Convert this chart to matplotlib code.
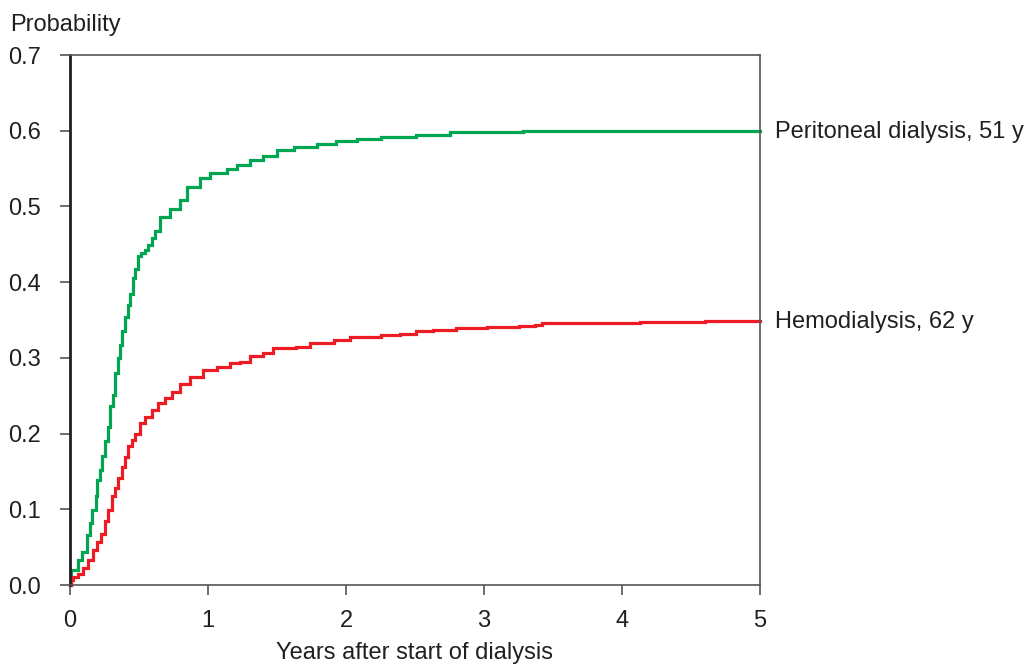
import matplotlib.pyplot as plt

plt.rcParams["font.family"] = ["Liberation Sans", "DejaVu Sans"]

TEXT = "#231f20"
GREEN = "#00a651"
RED = "#ed1c24"

# Cumulative probability step curves (years, probability)
pd_years = [0.0, 0.005, 0.06, 0.085, 0.12, 0.145, 0.157, 0.186, 0.193, 0.217,
            0.23, 0.254, 0.273, 0.29, 0.314, 0.326, 0.345, 0.362, 0.379, 0.399,
            0.418, 0.435, 0.459, 0.471, 0.49, 0.514, 0.543, 0.567, 0.592, 0.616,
            0.652, 0.725, 0.797, 0.845, 0.942, 1.014, 1.135, 1.208, 1.304, 1.40,
            1.50, 1.62, 1.79, 1.93, 2.08, 2.25, 2.51, 2.75, 3.28, 4.02, 5.0]
pd_prob = [0.0, 0.020, 0.033, 0.044, 0.066, 0.082, 0.099, 0.117, 0.139, 0.152,
           0.170, 0.190, 0.209, 0.236, 0.251, 0.280, 0.300, 0.317, 0.335, 0.354,
           0.370, 0.385, 0.405, 0.418, 0.434, 0.438, 0.442, 0.449, 0.458, 0.467,
           0.486, 0.497, 0.509, 0.526, 0.537, 0.544, 0.550, 0.555, 0.561, 0.566,
           0.575, 0.579, 0.582, 0.586, 0.589, 0.592, 0.595, 0.598, 0.599, 0.600, 0.600]

hd_years = [0.0, 0.005, 0.024, 0.06, 0.097, 0.133, 0.169, 0.193, 0.225, 0.254,
            0.273, 0.302, 0.326, 0.35, 0.374, 0.399, 0.423, 0.447, 0.471, 0.507,
            0.543, 0.592, 0.64, 0.688, 0.737, 0.797, 0.87, 0.966, 1.063, 1.16,
            1.232, 1.304, 1.40, 1.473, 1.64, 1.74, 1.91, 2.03, 2.25, 2.39,
            2.51, 2.63, 2.80, 3.02, 3.25, 3.37, 3.42, 4.13, 4.60, 5.0]
hd_prob = [0.0, 0.007, 0.011, 0.015, 0.022, 0.033, 0.046, 0.057, 0.068, 0.084,
           0.099, 0.117, 0.128, 0.141, 0.156, 0.169, 0.183, 0.192, 0.200, 0.214,
           0.222, 0.231, 0.240, 0.247, 0.255, 0.266, 0.275, 0.284, 0.288, 0.293,
           0.295, 0.302, 0.307, 0.3125, 0.315, 0.319, 0.324, 0.327, 0.330, 0.332,
           0.335, 0.337, 0.339, 0.341, 0.3425, 0.344, 0.3456, 0.347, 0.349, 0.349]

labels = ["Peritoneal dialysis, 51 y", "Hemodialysis, 62 y"]

fig = plt.figure(figsize=(10.31, 6.64), dpi=100)
ax = fig.add_axes((70 / 1031, 79 / 664, 690 / 1031, 530 / 664))

ax.plot(pd_years, pd_prob, drawstyle="steps-post", color=GREEN, lw=2.3,
        solid_joinstyle="miter", clip_on=False)
ax.plot(hd_years, hd_prob, drawstyle="steps-post", color=RED, lw=2.3,
        solid_joinstyle="miter", clip_on=False)

for yv, txt in zip([pd_prob[-1], hd_prob[-1]], labels):
    ax.annotate(txt, xy=(5, yv), xytext=(11, -1), textcoords="offset points",
                va="center", ha="left", fontsize=17, color=TEXT,
                annotation_clip=False)

ax.set_xlim(0, 5)
ax.set_ylim(0, 0.7)
ax.set_xticks(range(6))
ax.set_yticks([i / 10 for i in range(8)])
ax.set_yticklabels([f"{i / 10:.1f}" for i in range(8)])

ax.tick_params(axis="both", direction="out", length=7, width=1.2,
               color="#555555", labelsize=17, labelcolor=TEXT)
ax.tick_params(axis="y", pad=14)
ax.tick_params(axis="x", pad=11)

for side in ["top", "right", "bottom"]:
    ax.spines[side].set_color("#555555")
    ax.spines[side].set_linewidth(1.2)
ax.spines["left"].set_color(TEXT)
ax.spines["left"].set_linewidth(2)

ax.set_xlabel("Years after start of dialysis", fontsize=17, color=TEXT,
              labelpad=7)
fig.text(10 / 1031, 1 - 25 / 664, "Probability", fontsize=17, color=TEXT,
         ha="left", va="center")

fig.savefig("out.png", dpi=100)
